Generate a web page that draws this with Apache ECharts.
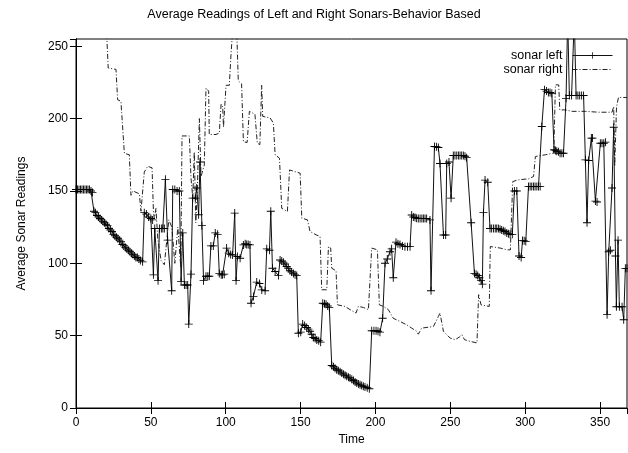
<!DOCTYPE html>
<html>
<head>
<meta charset="utf-8">
<script src="https://cdn.jsdelivr.net/npm/echarts@6/dist/echarts.min.js"></script>
<style>
  html, body { margin: 0; padding: 0; background: #fff; }
  #chart { width: 628px; height: 453px; }
</style>
</head>
<body>
<div id="chart"></div>
<script>
// time / reading pairs
const sonarLeft = [
  [0,151],[1,151],[2,151],[3,151],[4,151],[5,151],[6,151],[7,151],[8,151],[9,151],[10,150],[11,149],
  [12,136],[13,135],[14,133],[15,132],[16,131],[17,130],[18,129],[19,128],[20,127],[21,126],[22,124],
  [23,123],[24,122],[25,120],[26,119],[27,118],[28,117],[29,116],[30,115],[31,113],[32,112],[33,111],
  [34,110],[35,109],[36,108],[37,107],[38,106],[39,105],[40,104],[41,104],[42,103],[43,102],[44.5,101],
  [45.6,135],[47,134],[48.5,132],[50,131],[51.2,130],[51.7,92],[52.6,124],[54.8,88],[55.7,124],[57,124],
  [58,124],[59,124],[59.7,158],[61.2,116],[63.9,81],[64.6,151],[66,151],[67.5,150],[69,150],[70.2,87.5],
  [71.3,121],[72.4,85],[73.5,85],[74.6,85],[75.3,58],[76.8,92.5],[77.9,145],[79.7,145],[80.6,152],
  [81.9,133.5],[82.8,170],[84.1,126],[85.2,88],[86.8,91],[88,91],[89,91],[90.1,112],[91.7,112],[93,121],
  [94.6,120],[95.7,93],[97,92],[97.9,92],[99,92.5],[100.6,110.5],[102,107],[103.3,106],[104.6,105.7],
  [106,134.7],[106.9,88],[107.8,104.7],[109.6,103.5],[111.8,112.7],[113,113.5],[114,113],[115,113],
  [116.2,112.7],[116.9,72.4],[118.5,77],[120.7,87],[122.5,86],[124.1,81.6],[126.3,81],[127.4,110],
  [129.2,109],[130.1,136],[131.2,96.6],[133,94.3],[135.2,91.5],[136.3,102.3],[137.4,101.5],[138.5,100.8],
  [139.6,99.5],[140.7,97.8],[141.8,96.5],[142.9,94.8],[144,94],[145.2,93],[146.3,92],[147.4,91.5],
  [148.5,51.7],[150.1,52.4],[151.4,58],[152.7,57],[154.1,55.6],[155.2,54.5],[156.3,53],[157.4,51],
  [158.5,48.7],[159.7,48],[160.8,47],[162.1,46.5],[163.4,45.5],[164.8,72.4],[166,72],[167,71.7],
  [168.1,70.5],[169.2,69.4],[170.8,29.4],[172,28.5],[173,27.5],[174.1,26.4],[175.2,25.8],[176.4,25],
  [177.5,24.2],[178.6,23.4],[179.7,22.6],[180.8,22],[182,21.2],[183,20.7],[184.2,19.8],[185.3,19],
  [186.4,18],[187.5,17.2],[188.6,16.5],[189.7,16],[190.8,15.5],[191.9,15],[193,14.5],[194.5,14],
  [195.9,13.3],[197.5,53.4],[199,53.4],[200.4,53.4],[201.7,53],[203,52.4],[204.8,62],[206.4,100],
  [207.9,103],[209.7,108],[210.8,110],[211.9,90],[213.7,114.6],[215,113.5],[216.4,113],[218,112],
  [219.7,111.5],[221.4,111.5],[223.1,111.5],[224.2,133.4],[225.3,132],[226.4,131.6],[227.5,131.2],
  [228.6,131],[229.8,131],[231,131],[232,131],[233.1,131],[234.2,131],[236.4,130],[237.1,81],
  [239.4,180.7],[240.7,180.5],[242,180],[243.1,169],[245.4,119.6],[246.9,119.6],[247.6,169],[249.1,170],
  [250.5,145],[252,174.5],[253.1,174.5],[254.3,174.5],[255.4,174.5],[256.5,174.5],[257.6,174.5],
  [258.7,174.5],[259.8,174],[260.9,173],[263.9,128],[266.1,93],[267.2,92.5],[268.3,91.6],[269.4,90],
  [270.5,88],[271.4,85.6],[272.1,135],[273.2,157.5],[275,156],[276.5,124],[277.6,124],[278.8,124],
  [280,124],[281,124],[282.1,124],[283.2,123.5],[284.3,123],[285.4,122.5],[286.5,122],[287.7,121],
  [288.8,120.5],[289.9,120],[291.4,120],[292.8,150],[294.4,150],[295.9,105],[297.3,104],[298.2,115.7],
  [299.3,115.5],[300.4,115],[302.2,153],[303.3,153],[304.4,153],[305.5,153],[306.6,153],[307.8,153],
  [308.9,153],[310,153],[311.1,194.5],[312.9,220],[314.2,219],[315.5,218],[316.6,218],[317.8,217.5],
  [319.3,178.5],[320.2,178],[321.1,177.4],[322.2,177],[323.3,176],[324.5,176],[325.6,176],[327.3,214],
  [328.4,270],[329.5,216],[331,216],[332.8,270],[334,216],[335.2,216],[336.4,216],[337.7,216],[339,216],
  [340.2,171.5],[341.3,128],[342.4,171],[344.2,186.5],[345,186.5],[346.9,143],[348,142.4],[350.2,183],
  [351.3,183],[352.5,183],[353.6,183.7],[354.7,64.5],[355.8,108],[356.9,109],[358,152],[359.1,194],
  [360.3,105],[360.9,70],[362,116],[362.9,70],[364.7,70],[365.8,61],[366.9,96.5],[368,96.5]
];

const sonarRight = [
  [0,258],[20.5,258],[21.5,235],[26.7,234],[27.8,213],[30,212],[32.3,176],[35.6,175],[36.7,147],
  [38,150],[42.3,148],[43.4,136],[45.6,163],[47.9,167],[50.8,166],[51.7,136],[52.3,131],[53.4,138],
  [54.6,117],[56.8,102],[59,99],[60.1,98],[62,130],[64,125],[66,100],[68,125],[70,97],[70.8,188],
  [75.7,188],[76.8,159],[78,145],[79,177],[80,128],[81,150],[82.4,200],[83.5,160],[85.7,168],[86.8,221],
  [88.6,219],[89,189],[93.5,189],[95.7,190],[96.9,210],[98,208],[98.5,194],[99.1,193],[100.2,223],
  [102.4,223],[103.5,244],[104.7,262],[107.3,262],[108.4,226],[110.6,224],[111.8,184],[114.3,183.5],
  [115.8,205],[119.5,203],[121.1,183],[122.8,182],[124,223],[124.7,201.5],[129.6,200.5],[131.8,197],
  [133,175],[135.9,172.6],[137.4,138],[141.2,135.8],[142.6,164.5],[149.7,162.3],[150.8,131.2],
  [154.6,130],[156.3,122],[160.3,119.7],[163,118.5],[164.1,81.7],[167.5,81.7],[168.6,111.6],
  [170.1,110.5],[170.8,96.6],[173.7,94.8],[174.6,71.3],[179.7,70.2],[183,68],[187,65.6],[188.6,70.2],
  [191.9,69.5],[195.3,68],[197.5,110.5],[201.3,109.3],[202.6,71.3],[205.3,70.2],[208.6,68],[211.9,62],
  [216.4,59.8],[220.8,57.5],[224.2,55.2],[227.5,53],[228.6,51],[230.9,55.2],[238.7,56.3],[242,63.2],
  [243.1,65.6],[245.4,53],[249.9,48.3],[253.2,47.2],[256,49],[257.7,50.6],[259.5,47.2],[263.3,46],
  [267.8,45],[268.9,78.3],[270.5,71.3],[276,70.2],[276.7,111.6],[283.4,110.5],[287.9,109.3],
  [290.1,109.3],[291.7,156.5],[295.6,157.7],[302.3,158.4],[305.6,160],[306.8,173.8],[313.5,175],
  [319.1,176.2],[320.2,223.3],[322.4,223.3],[323.1,206],[326.9,206],[331.3,205],[340.2,205],
  [349.1,204.4],[358,204.4],[359.1,208.3],[359.8,167],[361,208],[362.3,214.6],[368,214.6]
];

const xTicks = [0, 50, 100, 150, 200, 250, 300, 350];
const yTicks = [0, 50, 100, 150, 200, 250];

var dom = document.getElementById('chart');
var myChart = echarts.init(dom, null, { renderer: 'canvas' });

const plusSymbol = 'path://M4,0h1v4h4v1h-4v4h-1v-4h-4v-1h4z';
const font = 'Liberation Sans';

const tickStyle = { show: true, inside: true, length: 6, lineStyle: { color: '#000', width: 1 } };

var option = {
  animation: false,
  backgroundColor: '#fff',
  title: {
    text: 'Average Readings of Left and Right Sonars-Behavior Based',
    left: 'center',
    top: 3,
    textStyle: { fontFamily: font, fontSize: 12.5, fontWeight: 'normal', color: '#000' }
  },
  legend: {
    orient: 'vertical',
    right: 10,
    top: 44,
    align: 'right',
    itemWidth: 40,
    itemHeight: 8,
    itemGap: 1,
    lineStyle: { width: 1 },
    textStyle: { fontFamily: font, fontSize: 12.5, color: '#000', lineHeight: 11.5, padding: [0, 5, 0, 0] },
    data: [
      { name: 'sonar left' },
      { name: 'sonar right', itemStyle: { opacity: 0 } }
    ]
  },
  grid: {
    left: 76, right: 1, top: 39, bottom: 45,
    show: true, borderColor: '#000', borderWidth: 1
  },
  xAxis: [
    {
      type: 'value', min: 0, max: 368, interval: 50,
      name: 'Time', nameLocation: 'middle', nameGap: 26,
      nameTextStyle: { fontFamily: font, fontSize: 12, color: '#000' },
      axisLine: { show: true, lineStyle: { color: '#000', width: 1 } },
      axisTick: tickStyle,
      axisLabel: {
        fontFamily: font, fontSize: 12, color: '#000', margin: 9, showMaxLabel: false,
        formatter: function (v) { return xTicks.indexOf(v) >= 0 ? String(v) : ''; }
      },
      splitLine: { show: false }
    },
    {
      type: 'value', position: 'top', min: 0, max: 368, interval: 50,
      axisLine: { show: true, lineStyle: { color: '#000', width: 1 } },
      axisTick: tickStyle, axisLabel: { show: false }, splitLine: { show: false }
    }
  ],
  yAxis: [
    {
      type: 'value', min: 0, max: 255, interval: 50,
      name: 'Average Sonar Readings', nameLocation: 'middle', nameGap: 48,
      nameTextStyle: { fontFamily: font, fontSize: 12, color: '#000' },
      axisLine: { show: true, lineStyle: { color: '#000', width: 1 } },
      axisTick: tickStyle,
      axisLabel: {
        fontFamily: font, fontSize: 12, color: '#000', margin: 8, showMaxLabel: false,
        formatter: function (v) { return yTicks.indexOf(v) >= 0 ? String(v) : ''; }
      },
      splitLine: { show: false }
    },
    {
      type: 'value', position: 'right', min: 0, max: 255, interval: 50,
      axisLine: { show: true, lineStyle: { color: '#000', width: 1 } },
      axisTick: tickStyle, axisLabel: { show: false }, splitLine: { show: false }
    }
  ],
  series: [
    {
      name: 'sonar left',
      type: 'line',
      data: sonarLeft,
      symbol: plusSymbol,
      symbolSize: 8,
      showAllSymbol: true,
      clip: true,
      itemStyle: { color: '#000' },
      lineStyle: { color: '#111', width: 1 },
      z: 3
    },
    {
      name: 'sonar right',
      type: 'line',
      data: sonarRight,
      showSymbol: false,
      symbol: 'none',
      clip: true,
      itemStyle: { color: '#222' },
      lineStyle: { color: '#222', width: 1, type: [5, 2, 1, 2] },
      z: 2
    }
  ]
};

myChart.setOption(option);
</script>
</body>
</html>
